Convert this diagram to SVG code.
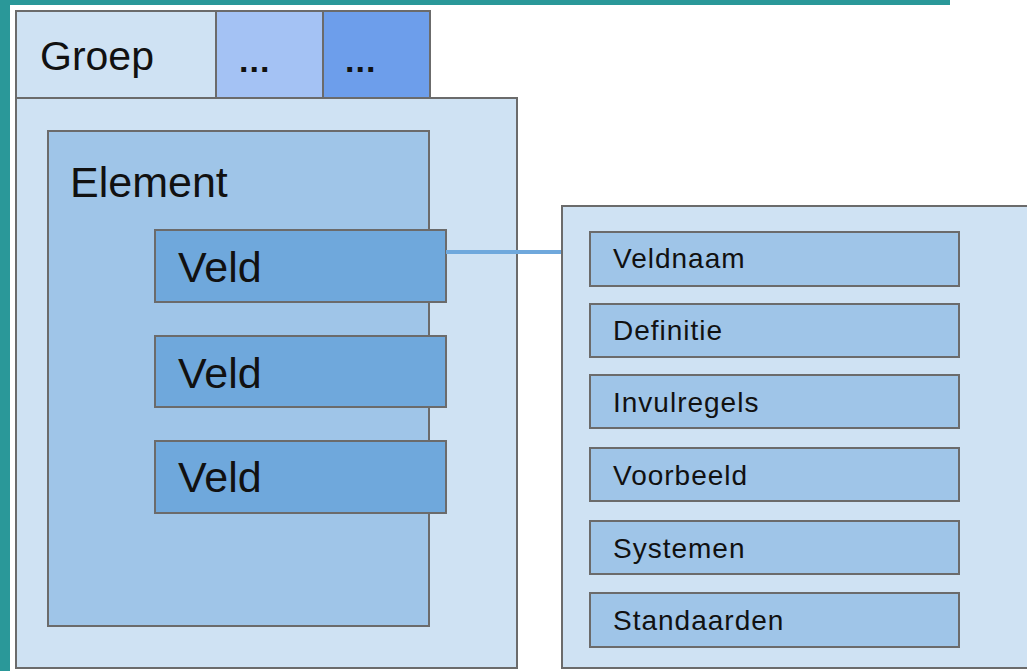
<svg xmlns="http://www.w3.org/2000/svg" width="1027" height="671" viewBox="0 0 1027 671">
<style>
.box{stroke:#6b6b6b;stroke-width:2}
.l{fill:#cfe2f3}
.m{fill:#9fc5e8}
.d{fill:#6fa8dc}
text{font-family:"Liberation Sans",Arial,sans-serif;fill:#111}
.big{font-size:43px}
.sm{font-size:28px;letter-spacing:1px}
.dots{font-size:34px;font-weight:bold;letter-spacing:1px}
</style>
<rect width="1027" height="671" fill="#ffffff"/>
<rect x="0" y="0" width="950" height="5" fill="#2a9899"/>
<rect x="0" y="0" width="10" height="671" fill="#2a9899"/>
<g id="group">
<rect class="box l" x="16" y="98" width="501" height="570"/>
</g>
<g id="tab-groep">
<rect class="box l" x="16" y="11" width="200" height="87"/>
<text class="big" x="40" y="70" style="font-size:41px">Groep</text>
</g>
<g id="tab-2">
<rect class="box" fill="#a4c2f4" x="216" y="11" width="107" height="87"/>
<text class="dots" x="239" y="72">...</text>
</g>
<g id="tab-3">
<rect class="box" fill="#6d9eeb" x="323" y="11" width="107" height="87"/>
<text class="dots" x="345" y="72">...</text>
</g>
<g id="element">
<rect class="box m" x="48" y="131" width="381" height="495"/>
<text class="big" x="70" y="197">Element</text>
</g>
<g id="veld1">
<rect class="box d" x="155" y="230" width="291" height="72"/>
<text class="big" x="178" y="282">Veld</text>
</g>
<g id="veld2">
<rect class="box d" x="155" y="336" width="291" height="71"/>
<text class="big" x="178" y="388">Veld</text>
</g>
<g id="veld3">
<rect class="box d" x="155" y="441" width="291" height="72"/>
<text class="big" x="178" y="492">Veld</text>
</g>
<g id="connectors">
<line x1="446" y1="252" x2="562" y2="252" stroke="#6fa8dc" stroke-width="4"/>
</g>
<g id="panel">
<rect class="box l" x="562" y="206" width="470" height="462"/>
</g>
<g id="veldnaam">
<rect class="box m" x="590" y="232" width="369" height="54"/>
<text class="sm" x="613" y="268">Veldnaam</text>
</g>
<g id="definitie">
<rect class="box m" x="590" y="304" width="369" height="53"/>
<text class="sm" x="613" y="340">Definitie</text>
</g>
<g id="invulregels">
<rect class="box m" x="590" y="375" width="369" height="53"/>
<text class="sm" x="613" y="412">Invulregels</text>
</g>
<g id="voorbeeld">
<rect class="box m" x="590" y="448" width="369" height="53"/>
<text class="sm" x="613" y="485">Voorbeeld</text>
</g>
<g id="systemen">
<rect class="box m" x="590" y="521" width="369" height="53"/>
<text class="sm" x="613" y="558">Systemen</text>
</g>
<g id="standaarden">
<rect class="box m" x="590" y="593" width="369" height="54"/>
<text class="sm" x="613" y="630">Standaarden</text>
</g>
</svg>
